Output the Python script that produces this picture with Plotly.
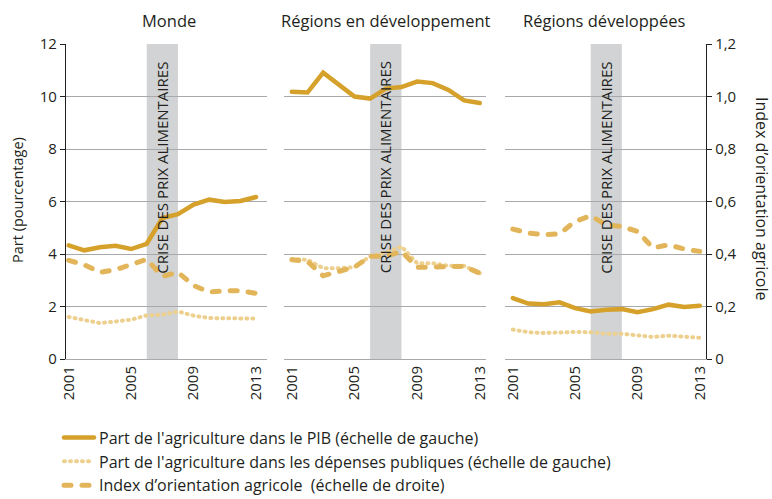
import plotly.graph_objects as go

years = list(range(2001, 2014))
panel_titles = ["Monde", "Régions en développement", "Régions développées"]

# Part de l'agriculture dans le PIB (%)
gdp_monde = [4.33, 4.14, 4.26, 4.31, 4.19, 4.39, 5.37, 5.52, 5.88, 6.07, 5.98, 6.02, 6.17]
gdp_dev = [10.18, 10.15, 10.91, 10.44, 10.00, 9.92, 10.30, 10.36, 10.57, 10.51, 10.25, 9.85, 9.75]
gdp_devd = [2.32, 2.11, 2.09, 2.16, 1.94, 1.81, 1.88, 1.90, 1.78, 1.90, 2.07, 1.98, 2.03]

# Part de l'agriculture dans les dépenses publiques (%)
exp_monde = [1.60, 1.47, 1.37, 1.43, 1.50, 1.66, 1.69, 1.81, 1.65, 1.56, 1.56, 1.56, 1.54]
exp_dev = [3.81, 3.78, 3.46, 3.46, 3.50, 3.91, 4.06, 4.29, 3.65, 3.65, 3.55, 3.55, 3.27]
exp_devd = [1.12, 1.02, 0.99, 1.02, 1.03, 1.02, 0.96, 0.96, 0.89, 0.84, 0.89, 0.84, 0.81]

# Index d'orientation agricole
aoi_monde = [0.376, 0.359, 0.330, 0.340, 0.360, 0.380, 0.315, 0.330, 0.280, 0.255, 0.260, 0.260, 0.250]
aoi_dev = [0.378, 0.372, 0.317, 0.334, 0.350, 0.391, 0.391, 0.410, 0.350, 0.350, 0.350, 0.353, 0.327]
aoi_devd = [0.495, 0.480, 0.473, 0.477, 0.524, 0.546, 0.511, 0.505, 0.486, 0.423, 0.435, 0.419, 0.410]

crisis_start, crisis_end = 2006, 2008
x_ticks = [2001, 2005, 2009, 2013]
left_ticks = [0, 2, 4, 6, 8, 10, 12]
right_ticks = [0, 0.2, 0.4, 0.6, 0.8, 1.0, 1.2]
right_ticktext = ["0", "0,2", "0,4", "0,6", "0,8", "1,0", "1,2"]

series_names = [
    "Part de l'agriculture dans le PIB (échelle de gauche)",
    "Part de l'agriculture dans les dépenses publiques (échelle de gauche)",
    "Index d’orientation agricole \u00a0(échelle de droite)",
]

gdp = [gdp_monde, gdp_dev, gdp_devd]
exp = [exp_monde, exp_dev, exp_devd]
aoi = [aoi_monde, aoi_dev, aoi_devd]

FONT = "Open Sans"
C_GDP = "#D6A12B"
C_EXP = "#EDCF8E"
C_AOI = "#E2B55A"
GRID = "#A7A9AC"
TXT = "#231F20"

W, H = 772, 499
doms = [(66, 267), (284, 486), (505, 706)]
title_centers = [169, 386, 604]
ydom = [(H - 359) / H, (H - 44) / H]
xranges = [[2000.83, 2013.7], [2000.5, 2013.4], [2000.5, 2013.4]]

fig = go.Figure()

for i in range(3):
    xa = "x" if i == 0 else f"x{i+1}"
    ya = "y" if i == 0 else f"y{i+1}"
    yr = f"y{i+4}"
    fig.add_trace(go.Scatter(x=years, y=aoi[i], xaxis=xa, yaxis=yr, mode="lines",
                             line=dict(color=C_AOI, width=5, dash="7px,11px"),
                             name=series_names[2], showlegend=(i == 0), legendrank=3,
                             legendgroup="aoi"))
    fig.add_trace(go.Scatter(x=years, y=exp[i], xaxis=xa, yaxis=ya, mode="lines",
                             line=dict(color=C_EXP, width=4, dash="1px,5px"),
                             name=series_names[1], showlegend=(i == 0), legendrank=2,
                             legendgroup="exp"))
    fig.add_trace(go.Scatter(x=years, y=gdp[i], xaxis=xa, yaxis=ya, mode="lines",
                             line=dict(color=C_GDP, width=4.5),
                             name=series_names[0], showlegend=(i == 0), legendrank=1,
                             legendgroup="gdp"))

layout = dict(
    width=W, height=H,
    margin=dict(l=0, r=0, t=0, b=0, autoexpand=False),
    paper_bgcolor="white", plot_bgcolor="white",
    font=dict(family=FONT, size=15, color=TXT),
    legend=dict(x=59 / W, y=0.157, xanchor="left", yanchor="top",
                font=dict(size=16, color=TXT), itemwidth=30,
                tracegroupgap=0, bgcolor="rgba(0,0,0,0)"),
    shapes=[], annotations=[],
)

for i in range(3):
    xk = "xaxis" if i == 0 else f"xaxis{i+1}"
    yk = "yaxis" if i == 0 else f"yaxis{i+1}"
    ya = "y" if i == 0 else f"y{i+1}"
    xa = "x" if i == 0 else f"x{i+1}"
    layout[xk] = dict(domain=[doms[i][0] / W, doms[i][1] / W], range=xranges[i], anchor=ya,
                      tickvals=x_ticks, tickangle=-90, showgrid=False, zeroline=False,
                      showline=True, linecolor=GRID, linewidth=1, ticks="", automargin=False,
                      tickfont=dict(size=15, color=TXT))
    layout[yk] = dict(domain=ydom, range=[0, 12], anchor=xa, tickvals=left_ticks,
                      showgrid=True, gridcolor=GRID, gridwidth=1, zeroline=False,
                      showline=(i == 0), linecolor="#231F20", linewidth=1.3, automargin=False,
                      ticks="outside" if i == 0 else "", ticklen=5, tickcolor="#231F20",
                      showticklabels=(i == 0), tickfont=dict(size=15, color=TXT))
    rk = f"yaxis{i+4}"
    if i == 2:
        layout[rk] = dict(overlaying=ya, anchor=xa, side="right", range=[0, 1.2],
                          tickvals=right_ticks, ticktext=right_ticktext, showgrid=False,
                          zeroline=False, showline=True, linecolor="#231F20", linewidth=1.3,
                          ticks="outside", ticklen=5, tickcolor="#231F20", automargin=False,
                          tickfont=dict(size=15, color=TXT))
    else:
        layout[rk] = dict(overlaying=ya, anchor=xa, side="right", range=[0, 1.2],
                          visible=False, showgrid=False, automargin=False)
    layout["shapes"].append(dict(type="rect", xref=xa, yref=f"{ya} domain",
                                 x0=crisis_start, x1=crisis_end, y0=0, y1=1,
                                 fillcolor="#D1D3D4", line=dict(width=0), layer="below"))
    layout["annotations"].append(dict(text="CRISE DES PRIX ALIMENTAIRES", xref=xa, yref=ya,
                                      x=(crisis_start + crisis_end) / 2, y=7.3, textangle=-90,
                                      xanchor="center", yanchor="middle",
                                      showarrow=False, font=dict(size=15, color=TXT)))
    layout["annotations"].append(dict(text=panel_titles[i], xref="paper", yref="paper",
                                      x=title_centers[i] / W, y=(H - 20) / H,
                                      xanchor="center", yanchor="middle",
                                      showarrow=False, font=dict(size=16.5, color=TXT)))

layout["annotations"].append(dict(text="Part (pourcentage)", xref="paper", yref="paper",
                                  x=18 / W, y=(H - 200) / H, textangle=-90, showarrow=False,
                                  xanchor="center", yanchor="middle",
                                  font=dict(size=14.5, color=TXT)))
layout["annotations"].append(dict(text="Index d’orientation agricole", xref="paper", yref="paper",
                                  x=762 / W, y=(H - 199) / H, textangle=90, showarrow=False,
                                  xanchor="center", yanchor="middle",
                                  font=dict(size=16, color=TXT)))

fig.update_layout(**layout)

post_js = """
(function(){
  document.documentElement.style.margin = '0';
  document.documentElement.style.padding = '0';
  document.body.style.margin = '0';
  document.body.style.padding = '0';
  var gd = document.getElementById('{plot_id}');
  function fix(){
    var paths = gd.querySelectorAll('path.js-line');
    paths.forEach(function(p){ p.style.strokeLinecap = 'round'; });
  }
  fix();
  setTimeout(fix, 50);
  setTimeout(fix, 300);
  if (gd.on) { gd.on('plotly_afterplot', fix); }
})();
"""
fig.write_html("out.html", post_script=post_js, config={"displayModeBar": False})
